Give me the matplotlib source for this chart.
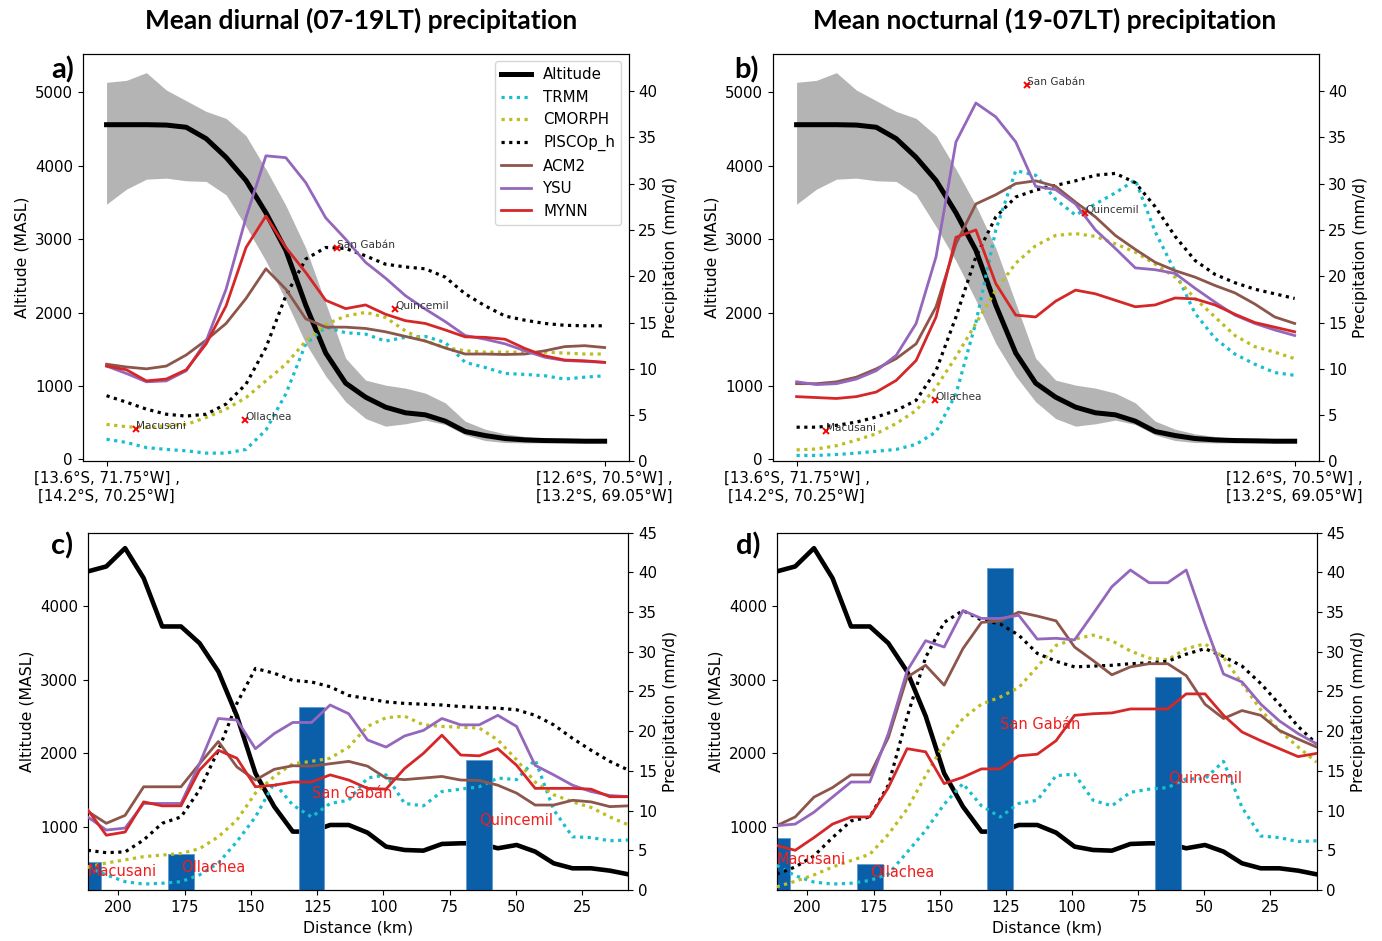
import matplotlib
matplotlib.use('Agg')
import matplotlib.pyplot as plt

# ---------------- data: top panels (position along transect, 0..100) ----------------
t_top = [0, 4, 8, 12, 16, 20, 24, 28, 32, 36, 40, 44, 48, 52, 56, 60, 64, 68, 72, 76, 80, 84, 88, 92, 96, 100]
xtick_top_labels = ['[13.6°S, 71.75°W] ,\n[14.2°S, 70.25°W]', '[12.6°S, 70.5°W] ,\n[13.2°S, 69.05°W]']

alt_top = [4560, 4560, 4560, 4555, 4525, 4370, 4115, 3800, 3360, 2850, 2100, 1450, 1040,
           849, 713, 636, 608, 522, 381, 326, 285, 267, 258, 254, 249, 249]
alt_top_upper = [5137, 5164, 5269, 5032, 4887, 4741, 4646, 4410, 3955, 3460, 2880, 2130, 1380,
                 1081, 1013, 972, 904, 772, 522, 413, 349, 313, 285, 267, 258, 258]
alt_top_lower = [3477, 3682, 3818, 3832, 3796, 3787, 3605, 3173, 2704, 2168, 1580, 1136, 786,
                 558, 454, 486, 536, 476, 335, 258, 231, 226, 226, 228, 232, 235]

# diurnal (panel a)
trmm_a = [2.4, 2.05, 1.5, 1.3, 1.15, 0.9, 0.9, 1.3, 3.4, 7.3, 12.7, 14.5, 13.9, 13.75, 13.0, 13.4,
          13.5, 12.85, 10.7, 10.15, 9.5, 9.4, 9.25, 8.9, 9.1, 9.25]
cmorph_a = [4.0, 3.75, 3.67, 3.85, 4.0, 4.75, 5.65, 6.9, 8.7, 10.5, 13.0, 14.8, 15.7, 16.1, 15.55,
            14.1, 13.0, 12.3, 11.95, 11.8, 11.8, 11.8, 11.8, 11.7, 11.6, 11.6]
pisco_a = [7.1, 6.4, 5.65, 5.1, 4.9, 5.1, 6.2, 8.35, 12.3, 17.9, 21.85, 23.1, 23.0, 22.2, 21.3, 21.0,
           20.8, 19.9, 18.1, 16.8, 15.7, 15.25, 14.9, 14.7, 14.65, 14.65]
acm2_a = [10.5, 10.2, 10.0, 10.3, 11.5, 13.1, 14.9, 17.6, 20.8, 18.6, 15.4, 14.5, 14.5, 14.36, 14.0,
          13.5, 13.0, 12.25, 11.6, 11.6, 11.55, 11.6, 11.95, 12.4, 12.5, 12.3]
ysu_a = [10.3, 9.5, 8.6, 8.7, 9.8, 13.0, 18.6, 26.35, 33.0, 32.8, 30.1, 26.3, 24.0, 21.5, 19.8, 17.9,
         16.45, 15.1, 13.6, 13.2, 12.7, 11.95, 11.25, 10.9, 10.8, 10.7]
mynn_a = [10.3, 9.9, 8.7, 8.9, 9.9, 12.7, 16.8, 23.1, 26.5, 23.1, 20.4, 17.4, 16.5, 16.9, 15.9, 15.2,
          14.9, 14.2, 13.45, 13.4, 13.2, 12.2, 11.4, 10.95, 10.87, 10.7]

# nocturnal (panel b)
trmm_b = [0.65, 0.65, 0.75, 0.9, 1.1, 1.3, 1.85, 3.2, 7.3, 15.0, 25.0, 31.4, 30.9, 28.3, 26.6, 27.8,
          29.0, 30.4, 24.8, 20.5, 16.0, 13.3, 11.6, 10.5, 9.6, 9.3]
cmorph_b = [1.25, 1.35, 1.7, 2.3, 3.0, 4.1, 5.5, 8.0, 11.3, 14.9, 18.5, 21.4, 23.3, 24.4, 24.6, 24.3,
            23.5, 22.6, 21.3, 19.9, 17.6, 15.6, 13.6, 12.4, 11.8, 11.1]
pisco_b = [3.7, 3.7, 3.9, 4.25, 4.8, 5.5, 6.6, 9.8, 15.6, 22.1, 26.4, 28.55, 29.3, 29.8, 30.3, 30.9,
           31.1, 30.1, 27.5, 24.3, 21.7, 20.2, 19.3, 18.6, 18.1, 17.6]
acm2_b = [8.4, 8.4, 8.6, 9.1, 10.0, 11.1, 12.7, 16.7, 23.5, 27.8, 28.8, 30.0, 30.3, 29.7, 28.0, 26.4,
          24.4, 22.9, 21.5, 20.6, 19.9, 19.0, 18.2, 17.0, 15.6, 14.9]
ysu_b = [8.6, 8.3, 8.4, 8.9, 9.8, 11.45, 14.9, 22.1, 34.5, 38.7, 37.2, 34.5, 29.7, 29.35, 27.8, 25.0,
         23.0, 20.9, 20.7, 20.3, 18.7, 17.2, 15.8, 14.9, 14.2, 13.6]
mynn_b = [7.0, 6.9, 6.8, 7.0, 7.5, 8.75, 10.9, 15.6, 24.2, 25.0, 19.2, 15.8, 15.6, 17.3, 18.5, 18.1,
          17.4, 16.7, 16.9, 17.65, 17.55, 16.9, 15.9, 15.0, 14.5, 14.0]

# stations (top panels: position along transect, station precipitation)
stations = ['Macusani', 'Ollachea', 'San Gabán', 'Quincemil']
station_t = [6.0, 27.8, 46.2, 57.9]
station_p_a = [3.55, 4.5, 23.0, 16.45]
station_p_b = [3.25, 6.65, 40.6, 26.85]

# ---------------- data: bottom panels (distance, km) ----------------
km = [211.6, 204.6, 197.5, 190.5, 183.5, 176.4, 169.4, 162.3, 155.3, 148.3, 141.2, 134.2, 127.1,
      120.1, 113.1, 106.0, 99.0, 92.0, 84.9, 77.9, 70.8, 63.8, 56.8, 49.7, 42.7, 35.7, 28.6, 21.6,
      14.5, 7.5]
alt_bot = [4470, 4538, 4787, 4379, 3722, 3722, 3495, 3110, 2505, 1726, 1273, 933, 933, 1023, 1023,
           919, 729, 683, 674, 765, 774, 774, 706, 751, 661, 502, 434, 434, 402, 352]

pisco_c = [5.0, 4.7, 4.8, 6.3, 8.4, 9.2, 12.6, 17.6, 23.5, 27.9, 27.3, 26.4, 26.2, 25.6, 24.5, 24.1,
           23.7, 23.5, 23.4, 23.3, 23.1, 23.0, 22.9, 22.7, 22.0, 20.8, 19.1, 17.6, 16.2, 15.1]
trmm_c = [2.9, 1.9, 1.05, 0.75, 0.85, 1.05, 1.9, 3.4, 6.1, 9.2, 13.5, 10.7, 9.2, 10.9, 11.3, 14.1,
          14.5, 10.9, 10.6, 12.4, 12.7, 13.0, 14.1, 13.9, 16.4, 10.1, 6.7, 6.6, 6.2, 6.3]
cmorph_c = [2.9, 3.4, 3.8, 4.2, 4.4, 4.6, 5.2, 6.7, 8.8, 12.2, 14.3, 15.9, 16.2, 16.6, 18.0, 20.6,
            21.7, 21.9, 20.8, 20.6, 20.5, 20.4, 18.9, 16.4, 13.6, 12.0, 11.1, 10.4, 9.2, 8.2]
acm2_c = [9.9, 8.4, 9.4, 13.0, 13.0, 13.0, 15.9, 18.7, 15.5, 13.85, 15.2, 15.65, 15.6, 15.9, 16.2,
          15.6, 14.1, 13.9, 14.1, 14.3, 13.85, 13.8, 13.2, 12.2, 10.7, 10.7, 11.3, 11.1, 10.5, 10.6]
ysu_c = [9.2, 7.55, 7.8, 10.9, 10.9, 10.9, 15.9, 21.6, 21.4, 17.8, 19.7, 21.1, 21.1, 23.3, 22.2, 18.9,
         18.0, 19.4, 20.1, 21.6, 20.8, 20.8, 22.0, 20.6, 15.7, 14.5, 13.2, 12.4, 11.9, 11.75]
mynn_c = [10.1, 6.9, 7.3, 11.1, 10.6, 10.6, 15.1, 17.6, 16.6, 13.0, 13.2, 13.6, 13.6, 14.5, 13.85,
          12.8, 12.7, 15.3, 17.2, 19.5, 17.0, 16.9, 17.8, 15.7, 12.8, 12.8, 12.8, 12.7, 11.75, 11.75]

pisco_d = [2.0, 2.9, 4.3, 6.6, 8.7, 9.2, 13.2, 21.8, 29.3, 33.7, 35.2, 34.0, 33.5, 32.1, 29.8, 28.8,
           28.1, 28.2, 28.3, 28.5, 28.6, 28.8, 29.7, 30.4, 29.4, 28.2, 26.0, 23.4, 20.6, 18.4]
trmm_d = [3.1, 1.8, 1.0, 0.75, 0.85, 1.2, 2.0, 4.75, 7.5, 10.8, 13.4, 10.6, 9.2, 10.9, 11.3, 14.4,
          14.6, 11.3, 10.6, 12.3, 12.7, 12.9, 14.0, 14.0, 16.2, 10.4, 6.8, 6.6, 6.1, 6.2]
cmorph_d = [0.4, 1.1, 1.9, 2.9, 3.7, 4.5, 7.0, 10.2, 14.4, 18.4, 21.6, 23.4, 24.3, 25.5, 28.1, 30.8,
            31.6, 32.1, 31.4, 30.1, 29.2, 29.0, 30.4, 31.0, 29.3, 26.0, 22.7, 20.1, 18.0, 16.1]
acm2_d = [8.1, 9.2, 11.7, 12.9, 14.5, 14.5, 19.2, 26.8, 28.3, 25.8, 30.4, 33.7, 33.9, 35.0, 34.5, 33.9,
          30.6, 28.9, 27.1, 28.1, 28.5, 28.5, 27.0, 23.4, 21.6, 22.6, 22.0, 20.1, 19.0, 18.0]
ysu_d = [8.1, 8.3, 9.8, 11.7, 13.6, 13.6, 19.7, 27.6, 31.4, 30.6, 35.2, 34.2, 34.2, 34.6, 31.6, 31.7,
         31.5, 34.8, 38.2, 40.3, 38.7, 38.7, 40.3, 33.5, 27.2, 26.2, 23.4, 21.3, 19.7, 18.4]
mynn_d = [5.6, 5.0, 6.6, 8.3, 9.2, 9.2, 12.9, 17.8, 17.4, 13.4, 14.2, 15.25, 15.25, 16.9, 17.1, 18.8,
          22.0, 22.2, 22.3, 22.8, 22.8, 22.8, 24.7, 24.7, 22.0, 19.9, 18.8, 17.8, 16.8, 17.2]

# station observations (bars) and label heights
station_km = [211.6, 176.4, 127.1, 63.8]
bars_c = [3.5, 4.5, 23.0, 16.4]
bars_d = [6.6, 3.3, 40.6, 26.8]
label_y_c = [2.3, 2.8, 12.2, 8.7]
label_y_d = [3.9, 2.2, 20.9, 14.0]

# ---------------- styles ----------------
C_TRMM = '#17becf'
C_CMORPH = '#bcbd22'
C_ACM2 = '#8c564b'
C_YSU = '#9467bd'
C_MYNN = '#d62728'
C_BAR = '#0a5fa8'
DOT = (0, (1, 1.4))
FS = 10.8
FS_LAB = 11.3

plt.rcParams['font.family'] = ['DejaVu Sans']
plt.rcParams['font.size'] = FS

fig = plt.figure(figsize=(13.82, 9.41), dpi=100)

rect_a = [0.0598, 0.5096, 0.3950, 0.4331]
rect_b = [0.5591, 0.5096, 0.3950, 0.4331]
rect_c = [0.0635, 0.0542, 0.3912, 0.3797]
rect_d = [0.5620, 0.0542, 0.3907, 0.3797]


def top_panel(rect, trmm, cmorph, pisco, acm2, ysu, mynn, st_p, legend):
    ax1 = fig.add_axes(rect)
    ax1.fill_between(t_top, alt_top_lower, alt_top_upper, color='#b4b4b4', lw=0)
    la, = ax1.plot(t_top, alt_top, color='black', lw=3.6, label='Altitude')
    ax1.set_xlim(-4.8, 104.8)
    ax1.set_ylim(-27, 5524)
    ax1.set_yticks([0, 1000, 2000, 3000, 4000, 5000])
    ax1.set_xticks([0, 100])
    ax1.set_xticklabels(xtick_top_labels, fontsize=FS)
    ax1.set_ylabel('Altitude (MASL)', fontsize=FS_LAB)
    ax2 = ax1.twinx()
    l1, = ax2.plot(t_top, trmm, color=C_TRMM, lw=2.3, ls=DOT, label='TRMM')
    l2, = ax2.plot(t_top, cmorph, color=C_CMORPH, lw=2.3, ls=DOT, label='CMORPH')
    l3, = ax2.plot(t_top, pisco, color='black', lw=2.3, ls=DOT, label='PISCOp_h')
    l4, = ax2.plot(t_top, acm2, color=C_ACM2, lw=2.0, label='ACM2')
    l5, = ax2.plot(t_top, ysu, color=C_YSU, lw=2.0, label='YSU')
    l6, = ax2.plot(t_top, mynn, color=C_MYNN, lw=2.0, label='MYNN')
    ax2.plot(station_t, st_p, 'x', color='red', ms=4.5, mew=1.4)
    for name, x, y in zip(stations, station_t, st_p):
        ax2.text(x, y, name, fontsize=7.6, color='#333333')
    ax2.set_ylim(0, 44)
    ax2.set_yticks([0, 5, 10, 15, 20, 25, 30, 35, 40])
    ax2.set_ylabel('Precipitation (mm/d)', fontsize=FS_LAB)
    if legend:
        ax2.legend(handles=[la, l1, l2, l3, l4, l5, l6], loc='upper right', fontsize=FS,
                   handlelength=2.0)
    return ax1, ax2


def bottom_panel(rect, trmm, cmorph, pisco, acm2, ysu, mynn, bars, label_y):
    ax1 = fig.add_axes(rect)
    ax1.plot(km, alt_bot, color='black', lw=3.3)
    ax1.set_xlim(km[0], km[-1])
    ax1.set_ylim(139, 4997)
    ax1.set_yticks([1000, 2000, 3000, 4000])
    ax1.set_xticks([200, 175, 150, 125, 100, 75, 50, 25])
    ax1.set_xlabel('Distance (km)', fontsize=FS_LAB)
    ax1.set_ylabel('Altitude (MASL)', fontsize=FS_LAB)
    ax2 = ax1.twinx()
    ax2.bar(station_km, bars, width=9.7, color=C_BAR, edgecolor='#5f9bd0', lw=0.6, zorder=1)
    ax2.plot(km, trmm, color=C_TRMM, lw=2.3, ls=DOT, zorder=3)
    ax2.plot(km, cmorph, color=C_CMORPH, lw=2.3, ls=DOT, zorder=3)
    ax2.plot(km, pisco, color='black', lw=2.3, ls=DOT, zorder=3)
    ax2.plot(km, acm2, color=C_ACM2, lw=2.0, zorder=3)
    ax2.plot(km, ysu, color=C_YSU, lw=2.0, zorder=3)
    ax2.plot(km, mynn, color=C_MYNN, lw=2.0, zorder=3)
    for name, x, y in zip(stations, station_km, label_y):
        ax2.text(x, y, name, fontsize=10.5, color='#f01e1e', ha='left', va='center', zorder=4)
    ax2.set_ylim(0, 45)
    ax2.set_yticks([0, 5, 10, 15, 20, 25, 30, 35, 40, 45])
    ax2.set_ylabel('Precipitation (mm/d)', fontsize=FS_LAB)
    ax2.set_xlim(km[0], km[-1])
    return ax1, ax2


top_panel(rect_a, trmm_a, cmorph_a, pisco_a, acm2_a, ysu_a, mynn_a, station_p_a, True)
top_panel(rect_b, trmm_b, cmorph_b, pisco_b, acm2_b, ysu_b, mynn_b, station_p_b, False)
bottom_panel(rect_c, trmm_c, cmorph_c, pisco_c, acm2_c, ysu_c, mynn_c, bars_c, label_y_c)
bottom_panel(rect_d, trmm_d, cmorph_d, pisco_d, acm2_d, ysu_d, mynn_d, bars_d, label_y_d)

title_font = dict(family='Lato', fontweight='bold', fontsize=19)
fig.text(361.5 / 1382, 1 - 20 / 941, 'Mean diurnal (07-19LT) precipitation', ha='center', va='center', **title_font)
fig.text(1045 / 1382, 1 - 20 / 941, 'Mean nocturnal (19-07LT) precipitation', ha='center', va='center', **title_font)

letter_font = dict(family='Lato', fontweight='bold', fontsize=21)
fig.text(51 / 1382, 1 - 70 / 941, 'a)', ha='left', va='center', **letter_font)
fig.text(734 / 1382, 1 - 70 / 941, 'b)', ha='left', va='center', **letter_font)
fig.text(51 / 1382, 1 - 546 / 941, 'c)', ha='left', va='center', **letter_font)
fig.text(736 / 1382, 1 - 546 / 941, 'd)', ha='left', va='center', **letter_font)

fig.savefig('out.png', dpi=100)
